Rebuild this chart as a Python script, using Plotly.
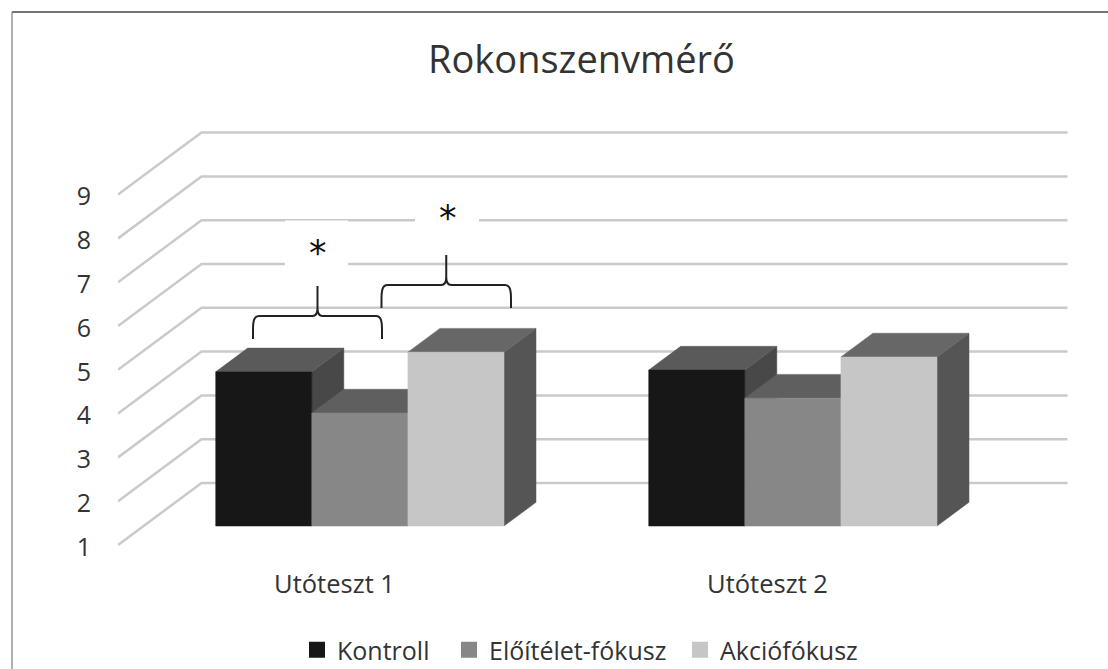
import plotly.graph_objects as go

# ---- data ----
categories = ["Utóteszt 1", "Utóteszt 2"]
series_names = ["Kontroll", "Előítélet-fókusz", "Akciófókusz"]
kontroll = [4.52, 4.56]
eloitelet = [3.58, 3.92]
akcio = [4.97, 4.86]
y_ticks = [1, 2, 3, 4, 5, 6, 7, 8, 9]

# ---- styles ----
front_colors = ["#171717", "#878787", "#c6c6c6"]
top_colors = ["#5a5a5a", "#5f5f5f", "#676767"]
side_colors = ["#484848", "#4e4e4e", "#555555"]
grid_color = "#cacaca"
text_color = "#333333"
FONT = "Open Sans"

# ---- layout geometry ----
W, H = 1108, 669
PL, PR, PT, PB = 118, 1068, 100, 565      # plot area in pixels
Y1_PX, PX_PER_UNIT = 545.0, 43.8          # value 1 on the front plane
CAT_PX = 433.0
X0 = -0.5
X1 = X0 + (PR - PL) / CAT_PX
Y0 = 1 + (Y1_PX - PB) / PX_PER_UNIT
Yt = 1 + (Y1_PX - PT) / PX_PER_UNIT
DX = 83.5 / CAT_PX                        # wall depth, x units
DY = 62.0 / PX_PER_UNIT                   # wall depth, y units
T_FRONT, T_BACK = 0.306, 0.689            # bar depth within the floor
BAR_W = 96.1 / CAT_PX
GROUP_W = 1 / 4.5


def proj(x, v, t):
    return x + t * DX, v + t * DY


def px_x(p):
    return X0 + (p - PL) / CAT_PX


def px_y(p):
    return 1 + (Y1_PX - p) / PX_PER_UNIT


fig = go.Figure()

# gridlines: floor diagonal + back wall
for v in y_ticks:
    a = proj(X0, v, 0)
    b = proj(X0, v, 1)
    c = proj(X0 + len(categories), v, 1)
    fig.add_trace(go.Scatter(x=[a[0], b[0], c[0]], y=[a[1], b[1], c[1]], mode="lines",
                             line=dict(color=grid_color, width=2.5), showlegend=False,
                             hoverinfo="skip"))


def face(points, color):
    xs = [p[0] for p in points] + [points[0][0]]
    ys = [p[1] for p in points] + [points[0][1]]
    fig.add_trace(go.Scatter(x=xs, y=ys, mode="lines", fill="toself", fillcolor=color,
                             line=dict(color=color, width=0.5), showlegend=False,
                             hoverinfo="skip"))


# 3-D looking bars
for s, vals in enumerate([kontroll, eloitelet, akcio]):
    for c, v in enumerate(vals):
        x_l = c - 1.5 * GROUP_W + s * BAR_W
        x_r = x_l + BAR_W
        face([proj(x_r, 1, T_FRONT), proj(x_r, 1, T_BACK), proj(x_r, v, T_BACK), proj(x_r, v, T_FRONT)],
             side_colors[s])
        face([proj(x_l, v, T_FRONT), proj(x_r, v, T_FRONT), proj(x_r, v, T_BACK), proj(x_l, v, T_BACK)],
             top_colors[s])
        face([proj(x_l, 1, T_FRONT), proj(x_r, 1, T_FRONT), proj(x_r, v, T_FRONT), proj(x_l, v, T_FRONT)],
             front_colors[s])

# legend entries, one legend each so the gaps can follow the reference
legend_ids = ["legend", "legend2", "legend3"]
legend_left_px = [297, 449, 680]
for name, col, lid in zip(series_names, front_colors, legend_ids):
    fig.add_trace(go.Scatter(x=[None], y=[None], mode="markers", name=name, legend=lid,
                             marker=dict(symbol="square", size=16, color=col)))

# carrier for the labelled value axis
fig.add_trace(go.Scatter(x=[None], y=[None], yaxis="y2", showlegend=False, hoverinfo="skip"))

shapes = []


def to_paper_x(p):
    return (p - PL) / (PR - PL)


def to_paper_y(p):
    return (PB - p) / (PB - PT)


# white boxes behind the asterisks
for (l, r, t, b) in [(285, 348, 220.5, 275), (415, 479, 181, 236)]:
    shapes.append(dict(type="rect", xref="x", yref="y", x0=px_x(l), x1=px_x(r), y0=px_y(b), y1=px_y(t),
                       fillcolor="white", line=dict(width=0), layer="above"))


def brace(xl, xr, y_tip, y_sh, y_top):
    xc = (xl + xr) / 2
    P = lambda a, b: f"{px_x(a):.5f},{px_y(b):.5f}"
    return (f"M{P(xl, y_tip)} L{P(xl, y_sh + 14)} C{P(xl, y_sh + 5)} {P(xl + 1, y_sh)} {P(xl + 6, y_sh)} "
            f"L{P(xc - 5, y_sh)} C{P(xc - 2, y_sh)} {P(xc, y_sh - 2)} {P(xc, y_sh - 8)} L{P(xc, y_top)} "
            f"M{P(xc, y_sh - 8)} C{P(xc, y_sh - 2)} {P(xc + 2, y_sh)} {P(xc + 5, y_sh)} "
            f"L{P(xr - 6, y_sh)} C{P(xr - 1, y_sh)} {P(xr, y_sh + 5)} {P(xr, y_sh + 14)} L{P(xr, y_tip)}")


for args in [(253, 382, 339, 316, 286), (381.5, 511, 308, 285, 255)]:
    shapes.append(dict(type="path", xref="x", yref="y", path=brace(*args),
                       line=dict(color="#222222", width=2), layer="above"))

# chart frame (top and left only are visible)
shapes.append(dict(type="line", xref="paper", yref="paper", x0=to_paper_x(12), x1=to_paper_x(1108),
                   y0=to_paper_y(12), y1=to_paper_y(12), line=dict(color="#454545", width=1.3)))
shapes.append(dict(type="line", xref="paper", yref="paper", x0=to_paper_x(12), x1=to_paper_x(12),
                   y0=to_paper_y(12), y1=to_paper_y(669), line=dict(color="#858585", width=1.3)))

annotations = [
    dict(x=px_x(317.5), y=px_y(253), xref="x", yref="y", text="*", showarrow=False,
         font=dict(family="DejaVu Sans", size=35, color="#111111")),
    dict(x=px_x(448), y=px_y(218), xref="x", yref="y", text="*", showarrow=False,
         font=dict(family="DejaVu Sans", size=35, color="#111111")),
]

legend_common = dict(orientation="h", xref="container", xanchor="left", y=1 - 650 / H, yref="container",
                     yanchor="middle", font=dict(size=25, family=FONT, color=text_color), itemwidth=30,
                     bgcolor="rgba(0,0,0,0)")

LABEL_SHIFT = 2 / PX_PER_UNIT

fig.update_layout(
    width=W, height=H,
    margin=dict(l=PL, r=W - PR, t=PT, b=H - PB, pad=0),
    paper_bgcolor="white", plot_bgcolor="white",
    font=dict(family=FONT, color=text_color),
    title=dict(text="Rokonszenvmérő", x=581.5 / W, y=1 - 60 / H, xanchor="center", yanchor="middle",
               font=dict(family=FONT, size=38, color=text_color)),
    xaxis=dict(range=[X0, X1], tickvals=list(range(len(categories))), ticktext=categories,
               showgrid=False, zeroline=False, showline=False, ticks="", ticklabelstandoff=1,
               tickfont=dict(size=25.5, family=FONT, color=text_color)),
    yaxis=dict(range=[Y0, Yt], showticklabels=False, showgrid=False, zeroline=False, showline=False,
               ticks=""),
    yaxis2=dict(range=[Y0 + LABEL_SHIFT, Yt + LABEL_SHIFT], overlaying="y", side="left", tickvals=y_ticks,
                showgrid=False, zeroline=False, showline=False, ticks="", ticklabelstandoff=26,
                tickfont=dict(size=25, family=FONT, color=text_color)),
    legend=dict(x=legend_left_px[0] / W, **legend_common),
    legend2=dict(x=legend_left_px[1] / W, **legend_common),
    legend3=dict(x=legend_left_px[2] / W, **legend_common),
    shapes=shapes, annotations=annotations, showlegend=True,
)

fig.write_html("out.html", config=dict(displayModeBar=False),
               post_script="document.body.style.margin='0';document.body.style.overflow='hidden';")
